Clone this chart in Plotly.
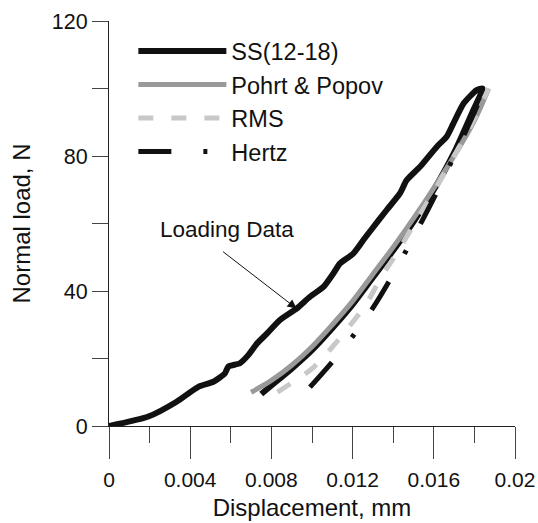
import plotly.graph_objects as go

# ---- data ----
ss_load_x = [0, 0.00194, 0.00333, 0.0044, 0.00514, 0.00571, 0.00588, 0.00645, 0.00686, 0.0073,
             0.0078, 0.00842, 0.00924, 0.0099, 0.01056, 0.01105, 0.01138, 0.01203, 0.01253, 0.0129,
             0.01368, 0.01433, 0.01466, 0.01532, 0.01614, 0.01663, 0.01696, 0.01746, 0.01811, 0.0184]
ss_load_y = [0, 2.8, 7.2, 11.6, 13.1, 15.6, 17.6, 18.6, 21, 24.5,
             27.5, 31.4, 34.8, 38.3, 41.2, 45.2, 48.2, 51.1, 55.1, 58,
             64, 68.9, 72.8, 76.8, 82.7, 85.7, 89.6, 95.5, 99.5, 100]
ss_unload_x = [0.0179, 0.0170, 0.0160, 0.0150, 0.0140, 0.0130, 0.0120, 0.0110, 0.0100, 0.0090, 0.0080, 0.0075]
ss_unload_y = [93, 81, 70, 60.5, 52, 44, 36, 29, 22.5, 17, 12, 9.5]

pp_x = [0.0070, 0.0080, 0.0090, 0.0100, 0.0110, 0.0120, 0.0130, 0.0140, 0.0150, 0.0160, 0.0170, 0.0180, 0.0187]
pp_y = [10, 13.5, 18, 23.5, 30, 37, 45, 53, 61.5, 70.5, 80, 90.5, 100]

rms_x = [0.0083, 0.0092, 0.0100, 0.0110, 0.0119, 0.0127, 0.0134, 0.0141, 0.0150, 0.0160, 0.0170, 0.0180, 0.0187]
rms_y = [10, 13.6, 17, 23.4, 30, 36.5, 44, 50.5, 59.5, 69.5, 80, 91, 100]

hz_x = [0.0099, 0.0110, 0.0120, 0.0130, 0.0140, 0.0150, 0.0160, 0.0170, 0.0180, 0.0185]
hz_y = [11.5, 19, 26.5, 35, 45, 56, 67.5, 80, 93, 100]

x_tickvals = [0, 0.004, 0.008, 0.012, 0.016, 0.02]
x_ticktext = ["0", "0.004", "0.008", "0.012", "0.016", "0.02"]
y_tickvals = [0, 40, 80, 120]

FONT = "Liberation Sans, Arial, sans-serif"

fig = go.Figure()
fig.add_trace(go.Scatter(x=ss_load_x + ss_unload_x, y=ss_load_y + ss_unload_y, mode="lines",
                         name="SS(12-18)", line=dict(color="#111111", width=6, shape="spline", smoothing=0.6)))
fig.add_trace(go.Scatter(x=pp_x, y=pp_y, mode="lines", name="Pohrt & Popov",
                         line=dict(color="#999999", width=5, shape="spline")))
fig.add_trace(go.Scatter(x=rms_x, y=rms_y, mode="lines", name="RMS",
                         line=dict(color="#c8c8c8", width=5, dash="15px,18px", shape="spline")))
fig.add_trace(go.Scatter(x=hz_x, y=hz_y, mode="lines", name="Hertz",
                         line=dict(color="#111111", width=5, dash="33px,32px,4px,30px", shape="spline")))

fig.add_annotation(x=0.00924, y=34.8, ax=-75, ay=-58, text="", showarrow=True,
                   arrowhead=2, arrowsize=1.8, arrowwidth=1, arrowcolor="#111111", standoff=0)
fig.add_annotation(x=0.00581, y=58.3, text="Loading Data", showarrow=False,
                   font=dict(family=FONT, size=22.5, color="#111111"))

fig.update_layout(
    width=538, height=523,
    margin=dict(l=109, r=23, t=21, b=97),
    paper_bgcolor="white", plot_bgcolor="white",
    font=dict(family=FONT, color="#111111"),
    showlegend=True,
    legend=dict(x=0.06, y=0.98, xanchor="left", yanchor="top", bgcolor="rgba(0,0,0,0)",
                font=dict(family=FONT, size=23.5, color="#111111"), itemwidth=88,
                tracegroupgap=0),
)
fig.update_xaxes(range=[0, 0.02], tickvals=x_tickvals, ticktext=x_ticktext, automargin=False,
                 showline=True, linecolor="#222222", linewidth=1,
                 ticks="outside", ticklen=32, tickcolor="#444444", tickwidth=1,
                 minor=dict(dtick=0.002, ticks="outside", ticklen=16, tickcolor="#444444", showgrid=False),
                 showgrid=False, zeroline=False, ticklabelstandoff=3,
                 tickfont=dict(family=FONT, size=21, color="#111111"),
                 title=dict(text="Displacement, mm", font=dict(family=FONT, size=24, color="#111111"), standoff=8))
fig.update_yaxes(range=[0, 120], tickvals=y_tickvals, automargin=False,
                 showline=True, linecolor="#222222", linewidth=1,
                 ticks="outside", ticklen=16, tickcolor="#444444", tickwidth=1,
                 minor=dict(dtick=20, ticks="outside", ticklen=16, tickcolor="#444444", showgrid=False),
                 showgrid=False, zeroline=False,
                 tickfont=dict(family=FONT, size=21.5, color="#111111"),
                 title=dict(text="Normal load, N", font=dict(family=FONT, size=24, color="#111111"), standoff=14))

fig.write_html("out.html", config={"displayModeBar": False},
               post_script="document.body.style.margin='0';document.body.style.overflow='hidden';")
